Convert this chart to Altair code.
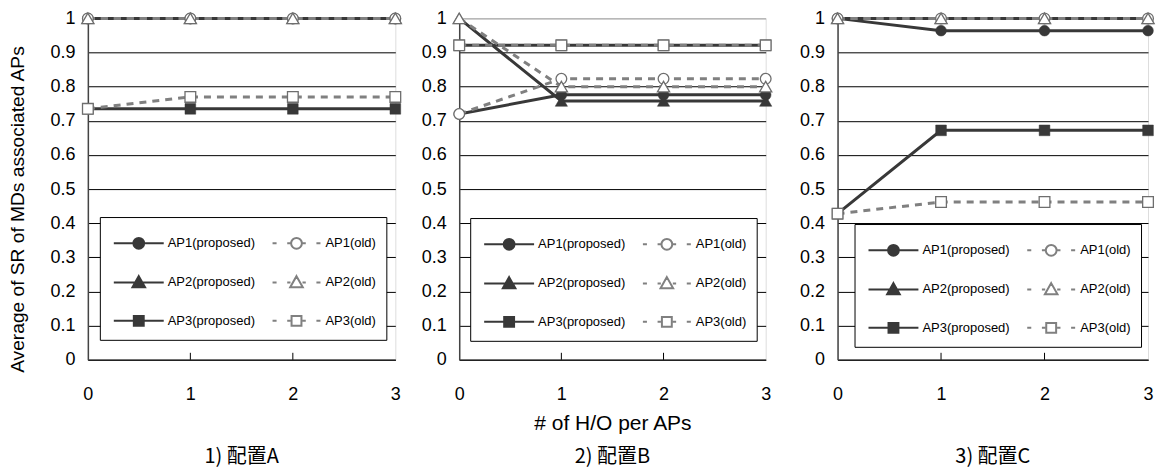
import altair as alt
import pandas as pd

# ---------------- data ----------------
X_VALUES = [0, 1, 2, 3]
X_INNER_TICKS = [1, 2]
Y_TICKS = [0, 0.1, 0.2, 0.3, 0.4, 0.5, 0.6, 0.7, 0.8, 0.9, 1]
# legend order (column-major: proposed column, then old column)
SERIES = ["AP1(proposed)", "AP2(proposed)", "AP3(proposed)", "AP1(old)", "AP2(old)", "AP3(old)"]
PANEL_TITLES = ["1) 配置A", "2) 配置B", "3) 配置C"]
Y_TITLE = "Average of SR of MDs associated APs"
X_TITLE = "# of H/O per APs"

A_AP1_PROPOSED = [1.0, 1.0, 1.0, 1.0]
A_AP2_PROPOSED = [1.0, 1.0, 1.0, 1.0]
A_AP3_PROPOSED = [0.735, 0.735, 0.735, 0.735]
A_AP1_OLD = [1.0, 1.0, 1.0, 1.0]
A_AP2_OLD = [1.0, 1.0, 1.0, 1.0]
A_AP3_OLD = [0.735, 0.77, 0.77, 0.77]

B_AP1_PROPOSED = [0.72, 0.776, 0.776, 0.776]
B_AP2_PROPOSED = [1.0, 0.758, 0.758, 0.758]
B_AP3_PROPOSED = [0.921, 0.921, 0.921, 0.921]
B_AP1_OLD = [0.72, 0.823, 0.823, 0.823]
B_AP2_OLD = [1.0, 0.80, 0.80, 0.80]
B_AP3_OLD = [0.921, 0.921, 0.921, 0.921]

C_AP1_PROPOSED = [1.0, 0.964, 0.964, 0.964]
C_AP2_PROPOSED = [1.0, 1.0, 1.0, 1.0]
C_AP3_PROPOSED = [0.428, 0.672, 0.672, 0.672]
C_AP1_OLD = [1.0, 1.0, 1.0, 1.0]
C_AP2_OLD = [1.0, 1.0, 1.0, 1.0]
C_AP3_OLD = [0.428, 0.462, 0.462, 0.462]

PANELS = [
    [A_AP1_PROPOSED, A_AP2_PROPOSED, A_AP3_PROPOSED, A_AP1_OLD, A_AP2_OLD, A_AP3_OLD],
    [B_AP1_PROPOSED, B_AP2_PROPOSED, B_AP3_PROPOSED, B_AP1_OLD, B_AP2_OLD, B_AP3_OLD],
    [C_AP1_PROPOSED, C_AP2_PROPOSED, C_AP3_PROPOSED, C_AP1_OLD, C_AP2_OLD, C_AP3_OLD],
]

# ---------------- styles ----------------
SANS = "Liberation Sans, Arial, sans-serif"
CJK = "Noto Sans CJK JP, Noto Sans CJK SC, sans-serif"
DARK = "#383838"
GRAY = "#808080"
H = 342
WIDTHS = [308, 307, 311]
LEGEND_POS = [(12, 199), (11, 200), (17, 206)]

IS_OLD = [False, False, False, True, True, True]
SHAPES = ["circle", "triangle-up", "square", "circle", "triangle-up", "square"]
SIZES = {"circle": 115, "triangle-up": 150, "square": 115}

# legend symbol paths (unit = half of sqrt(symbolSize))
LINE = "M-1.667,0L1.667,0"
DASHES = "M-1.6,0L-1.33,0M-0.62,0L-0.4,0M0.4,0L0.62,0M1.33,0L1.6,0"
CIRC = "M-0.36,0A0.36,0.36,0,1,1,0.36,0A0.36,0.36,0,1,1,-0.36,0Z"
TRI = "M0,-0.42L0.42,0.32L-0.42,0.32Z"
SQR = "M-0.33,-0.33L0.33,-0.33L0.33,0.33L-0.33,0.33Z"
MARK_PATH = {"circle": CIRC, "triangle-up": TRI, "square": SQR}
LEGEND_PATHS = [(DASHES if o else LINE) + MARK_PATH[s] for o, s in zip(IS_OLD, SHAPES)]
LEGEND_FILLS = ["white" if o else DARK for o in IS_OLD]
LEGEND_STROKES = [GRAY if o else DARK for o in IS_OLD]


def panel(idx):
    values = PANELS[idx]
    rows = []
    for s, vals in zip(SERIES, values):
        for x, v in zip(X_VALUES, vals):
            rows.append({"x": x, "y": v, "series": s})
    df = pd.DataFrame(rows)

    xaxis = alt.Axis(
        values=X_VALUES, format="d", ticks=False, tickSize=0, labelPadding=26,
        grid=False, title=X_TITLE if idx == 1 else " ", titlePadding=9,
        labelFont=SANS, labelFontSize=18, labelColor="#000",
        titleFont=SANS, titleFontSize=21, titleFontWeight="normal", titleColor="#000",
        domainColor="#222", domainWidth=1.5, labelFlush=False,
    )
    yaxis_kw = dict(
        values=Y_TICKS, format=".1~f", ticks=False, tickSize=0, labelPadding=13,
        grid=True,
        gridColor={"condition": {"test": "datum.value >= 0.99", "value": "#999999"}, "value": "#000000"},
        gridWidth=1,
        labelFont=SANS, labelFontSize=18, labelColor="#000",
        domainColor="#444", domainWidth=1.5,
    )
    if idx == 0:
        yaxis_kw.update(title=Y_TITLE, titleFont=SANS, titleFontSize=19.2,
                        titleFontWeight="normal", titleColor="#000", titlePadding=22,
                        titleY=191)
    else:
        yaxis_kw.update(title=None)
    yaxis = alt.Axis(**yaxis_kw)

    X = alt.X("x:Q", scale=alt.Scale(domain=[0, 3], nice=False, zero=False), axis=xaxis)
    Y = alt.Y("y:Q", scale=alt.Scale(domain=[0, 1], nice=False), axis=yaxis)

    base = alt.Chart(df)
    layers = []

    # inner ticks on x axis
    layers.append(
        alt.Chart(pd.DataFrame({"x": X_INNER_TICKS}))
        .mark_rule(color="#000", strokeWidth=1)
        .encode(x=X, y=alt.value(H), y2=alt.value(H - 7))
    )

    # lines: proposed first, then old (dashed, on top)
    for i, s in enumerate(SERIES):
        old = IS_OLD[i]
        kw = dict(color=GRAY if old else DARK, strokeWidth=3)
        if old:
            kw["strokeDash"] = [7, 6]
        layers.append(
            base.transform_filter(alt.datum.series == s).mark_line(**kw).encode(x=X, y=Y)
        )
    # points
    for i, s in enumerate(SERIES):
        old = IS_OLD[i]
        shp = SHAPES[i]
        if old:
            mk = dict(shape=shp, filled=True, fill="white", stroke="#6e6e6e",
                      strokeWidth=1.3, size=SIZES[shp], opacity=1)
        else:
            mk = dict(shape=shp, filled=True, fill=DARK, stroke=DARK,
                      strokeWidth=0.5, size=SIZES[shp], opacity=1)
        layers.append(
            base.transform_filter(alt.datum.series == s).mark_point(**mk).encode(x=X, y=Y)
        )

    lx, ly = LEGEND_POS[idx]
    leg = alt.Legend(
        title=None, orient="none", legendX=lx, legendY=ly, columns=2,
        symbolSize=900, symbolStrokeWidth=2, symbolOpacity=1,
        symbolOffset=13, labelOffset=13,
        labelFont=SANS, labelFontSize=13, labelColor="#000",
        rowPadding=13.5, columnPadding=12, padding=10,
        fillColor="white", strokeColor="#000",
    )
    # legend-only layer: zero-size invisible marks so that it adds no extent
    layers.append(
        base.mark_point(opacity=0, filled=True, size=0).encode(
            x=X, y=Y,
            shape=alt.Shape("series:N", scale=alt.Scale(domain=SERIES, range=LEGEND_PATHS), legend=leg),
            fill=alt.Fill("series:N", scale=alt.Scale(domain=SERIES, range=LEGEND_FILLS), legend=leg),
            stroke=alt.Stroke("series:N", scale=alt.Scale(domain=SERIES, range=LEGEND_STROKES), legend=leg),
        )
    )

    return alt.layer(*layers).properties(
        width=WIDTHS[idx], height=H,
        title=alt.TitleParams(PANEL_TITLES[idx], orient="bottom", anchor="middle",
                              font=CJK, fontSize=20, fontWeight="normal",
                              color="#000", offset=13),
    )


RES = dict(x="independent", y="independent", shape="independent",
           fill="independent", stroke="independent")

inner = alt.hconcat(panel(1), panel(2), spacing=72, bounds="flush").resolve_scale(**RES)
chart = (
    alt.hconcat(panel(0), inner, spacing=64, bounds="flush")
    .resolve_scale(**RES)
    .properties(padding={"left": 0, "top": 0, "right": 0, "bottom": 0})
    .configure_view(stroke="#999999", strokeWidth=1)
    .configure(background="white")
)

chart.save("out.html", embed_options={"renderer": "svg", "actions": False})
